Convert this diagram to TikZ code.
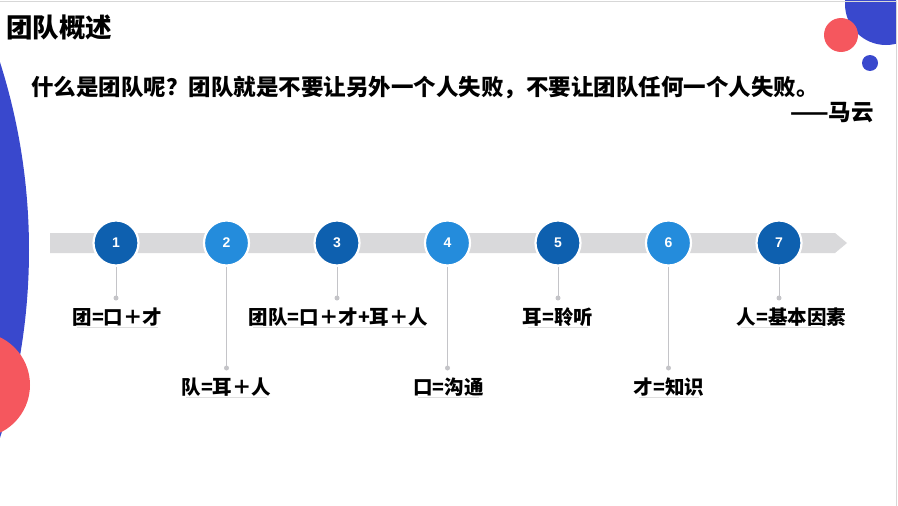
\documentclass[tikz,border=0pt]{standalone}
\usepackage{fontspec}
\newfontfamily\cjk{Noto Sans CJK SC}
\newfontfamily\numfont{Liberation Sans}
\definecolor{decoblue}{RGB}{57,72,205}
\definecolor{decored}{RGB}{245,87,94}
\definecolor{darkb}{RGB}{14,96,175}
\definecolor{lightb}{RGB}{36,140,220}
\definecolor{bargray}{RGB}{217,217,219}
\definecolor{conngray}{RGB}{196,196,200}
\definecolor{framegray}{RGB}{215,215,215}
\tikzset{
  stepcirc/.style={circle, minimum size=45pt, inner sep=0pt, draw=white, line width=2.2pt,
    text=white, font=\numfont\bfseries\fontsize{14}{16}\selectfont},
  oddc/.style={stepcirc, fill=darkb},
  evenc/.style={stepcirc, fill=lightb},
  dotn/.style={circle, fill=conngray, minimum size=5pt, inner sep=0pt},
  conn/.style={draw=conngray, line width=1pt},
  lab/.style={font=\cjk\bfseries\fontsize{19.5}{22}\selectfont, inner sep=0pt, text=black},
  uline/.style={draw=framegray!80, line width=0.8pt},
}
\begin{document}
\begin{tikzpicture}[x=1pt,y=-1pt]
\useasboundingbox (0,0) rectangle (898,506);
\begin{scope}
\clip (0,0) rectangle (896,506);
% decorations
\fill[decoblue] (-590,250) circle (619pt);
\fill[decored] (-23,385) circle (53pt);
\fill[decoblue] (886,4) circle (41pt);
\fill[decored] (841,35) circle (17pt);
\fill[decoblue] (870,63) circle (8pt);
\end{scope}
\draw[framegray, line width=1pt] (0,1) -- (896,1) -- (896,506);
% texts
\node[anchor=west, inner sep=0pt, font=\cjk\bfseries\fontsize{26.5}{30}\selectfont] (title) at (6,27) {团队概述};
\node[anchor=west, inner sep=0pt, font=\cjk\bfseries\fontsize{22.5}{26}\selectfont] (quote) at (31,88) {什么是团队呢？团队就是不要让另外一个人失败，不要让团队任何一个人失败。};
\node[anchor=east, inner sep=0pt, font=\cjk\bfseries\fontsize{22.5}{26}\selectfont] (author) at (874,113) {——马云};
% bar
\fill[bargray] (50,233) -- (835,233) -- (847,243) -- (835,253) -- (50,253) -- cycle;
% circles
\node[oddc] (c1) at (116,243) {1};
\node[evenc] (c2) at (226.5,243) {2};
\node[oddc] (c3) at (337,243) {3};
\node[evenc] (c4) at (447.5,243) {4};
\node[oddc] (c5) at (558,243) {5};
\node[evenc] (c6) at (668.5,243) {6};
\node[oddc] (c7) at (779,243) {7};
% dots
\node[dotn] (d1) at (116,298) {};
\node[dotn] (d2) at (226.5,368) {};
\node[dotn] (d3) at (337,298) {};
\node[dotn] (d4) at (447.5,368) {};
\node[dotn] (d5) at (558,298) {};
\node[dotn] (d6) at (668.5,368) {};
\node[dotn] (d7) at (779,298) {};
\foreach \i in {1,...,7} {\draw[conn] (c\i.south) -- (d\i.center);}
% labels
\node[lab] (l1) at (117.5,317) {团=口＋才};
\node[lab] (l2) at (226.5,387) {队=耳＋人};
\node[lab] (l3) at (338.5,317) {团队=口＋才+耳＋人};
\node[lab] (l4) at (448.5,387) {口=沟通};
\node[lab] (l5) at (558,317) {耳=聆听};
\node[lab] (l6) at (669,387) {才=知识};
\node[lab] (l7) at (791.5,317) {人=基本因素};
\foreach \i in {1,...,6} {\draw[uline] ([xshift=5pt,yshift=-10.5pt]l\i.west) -- ([xshift=-5pt,yshift=-10.5pt]l\i.east);}
\draw[uline] ([xshift=4pt,yshift=-10.5pt]l7.west) -- ([xshift=-23pt,yshift=-10.5pt]l7.east);
\end{tikzpicture}
\end{document}
